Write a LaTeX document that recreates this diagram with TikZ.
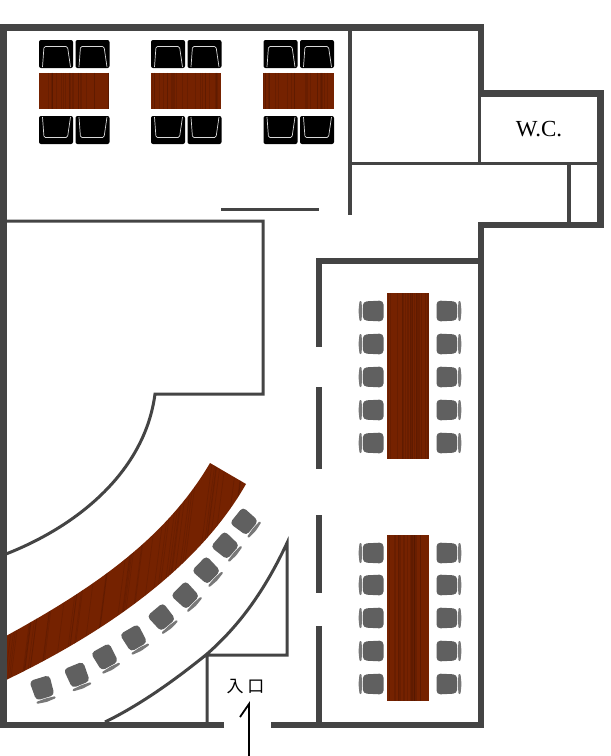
\documentclass[tikz,border=0pt]{standalone}
\usepackage{fontspec}
\setmainfont{Liberation Serif}
\newfontfamily\cjk{Noto Sans CJK JP}
\usepackage{tikz}
\usetikzlibrary{positioning}
\definecolor{wallgrey}{HTML}{444444}
\definecolor{woodred}{HTML}{752200}
\definecolor{wooddark}{HTML}{4E1600}
\definecolor{seatgrey}{HTML}{606060}
\tikzset{
	wall/.style={draw=wallgrey, line width=6.5pt, miter limit=4},
	partition/.style={draw=wallgrey, line width=3pt},
	woodgrain/.style={draw=wooddark, line width=0.7pt, opacity=0.3},
	blackseat/.pic={
		\fill[black, rounded corners=2pt] (-17,-14) rectangle (17,14);
		\draw[white!85!black, line width=0.7pt, rounded corners=1.5pt] (-13.5,13) -- (-12,-7.5) -- (11.5,-7.5) -- (14.5,13);
	},
	greyseat/.pic={
		\fill[seatgrey, rounded corners=4pt] (-12.5,-10.5) -- (8.2,-9.5) -- (8.2,9.5) -- (-12.5,10.5) -- cycle;
		\fill[seatgrey!85!white, rounded corners=1pt] (9.5,-10) -- (11.5,-10) -- (12.5,0) -- (11.5,10) -- (9.5,10) -- (8.8,0) -- cycle;
	}
}
\newcommand{\woodrect}[4]{
	\fill[woodred] (#1,#2) rectangle (#3,#4);
	\foreach \s in {1,...,24} {
		\pgfmathsetmacro{\sx}{#1+rnd*(#3-#1)}
		\draw[woodgrain] (\sx,#2) -- (\sx,#4);
	}
}

\begin{document}
\begin{tikzpicture}[x=1pt, y=-1pt]
\useasboundingbox[fill=white] (0,0) rectangle (611,756);
\pgfmathsetseed{27}

% top row of tables
\foreach \tx in {38.5,150.5,263} {
	\woodrect{\tx}{72.5}{\tx+70.5}{108.5}
	\foreach \cx in {17.5,54} {
		\pic at (\tx+\cx,54) {blackseat};
		\pic[yscale=-1] at (\tx+\cx,130) {blackseat};
	}
}

% long tables on the right
\foreach \ty/\sa/\sb/\sc/\sd/\se in {293/311/344/377/410/443, 535/553/585/618/651/684} {
	\woodrect{387}{\ty}{429}{\ty+165.5}
	\foreach \sy in {\sa,\sb,\sc,\sd,\se} {
		\pic at (449,\sy) {greyseat};
		\pic[rotate=180] at (371,\sy) {greyseat};
	}
}

% curved table
\begin{scope}
\clip (210,463) .. controls (165,540) and (90,590) .. (6,636) -- (6,680)
	.. controls (110,630) and (200,565) .. (246,484) -- cycle;
\fill[woodred] (0,455) rectangle (250,690);
\foreach \s in {1,...,70} {
	\pgfmathsetmacro{\sx}{rnd*280}
	\draw[woodgrain] (\sx,455) -- (\sx-30,690);
}
\end{scope}

% curved row of seats
\foreach \sx/\sy/\srot in {43/690/-73, 78/677/-68, 106/659/-61, 135/640/-60, 163/619/-50,
	187/597/-45, 208/572/-44, 227/547/-41, 246/523/-39} {
	\pic[rotate=\srot] at (\sx,\sy) {greyseat};
}

% thin partitions
\draw[partition] (221,209) -- (319,209);
\draw[partition] (5,221) -- (263,221) -- (263,394) -- (155,394)
	.. controls (145,470) and (80,525) .. (6,554);
\draw[partition] (105,722) .. controls (140,705) and (175,680) .. (207,654)
	.. controls (240,625) and (265,590) .. (287,543) -- (287,655) -- (207,655) -- (207,724);
\draw[partition, line width=4pt] (350,28) -- (350,215);
\draw[partition] (350,163.5) -- (598,163.5);
\draw[partition, line width=3.5pt] (479.5,95) -- (479.5,164);
\draw[partition, line width=4pt] (569,163) -- (569,224);

% outer walls
\draw[wall] (224,725) -- (3.25,725) -- (3.25,27.5) -- (481,27.5) -- (481,93.5) -- (600.5,93.5) -- (600.5,225) -- (481,225) -- (481,725) -- (271,725);
\draw[wall] (481,261) -- (319,261) -- (319,347);
\draw[wall] (319,387) -- (319,469);
\draw[wall] (319,515) -- (319,593);
\draw[wall] (319,626) -- (319,725);

% entrance
\node (wclabel) at (539,129) {\fontsize{23}{23}\selectfont W.C.};
\node[inner sep=0pt] (entrance) at (245.5,687) {\cjk\fontsize{17}{17}\selectfont 入\hspace{4pt}口};
\coordinate (arrowfoot) at (249,756);
\coordinate (arrowtip) at (249,704);
\coordinate (arrowbarb) at (240,717);
\draw[black, line width=1.8pt] (arrowfoot) -- (arrowtip) -- (arrowbarb);
\end{tikzpicture}
\end{document}
